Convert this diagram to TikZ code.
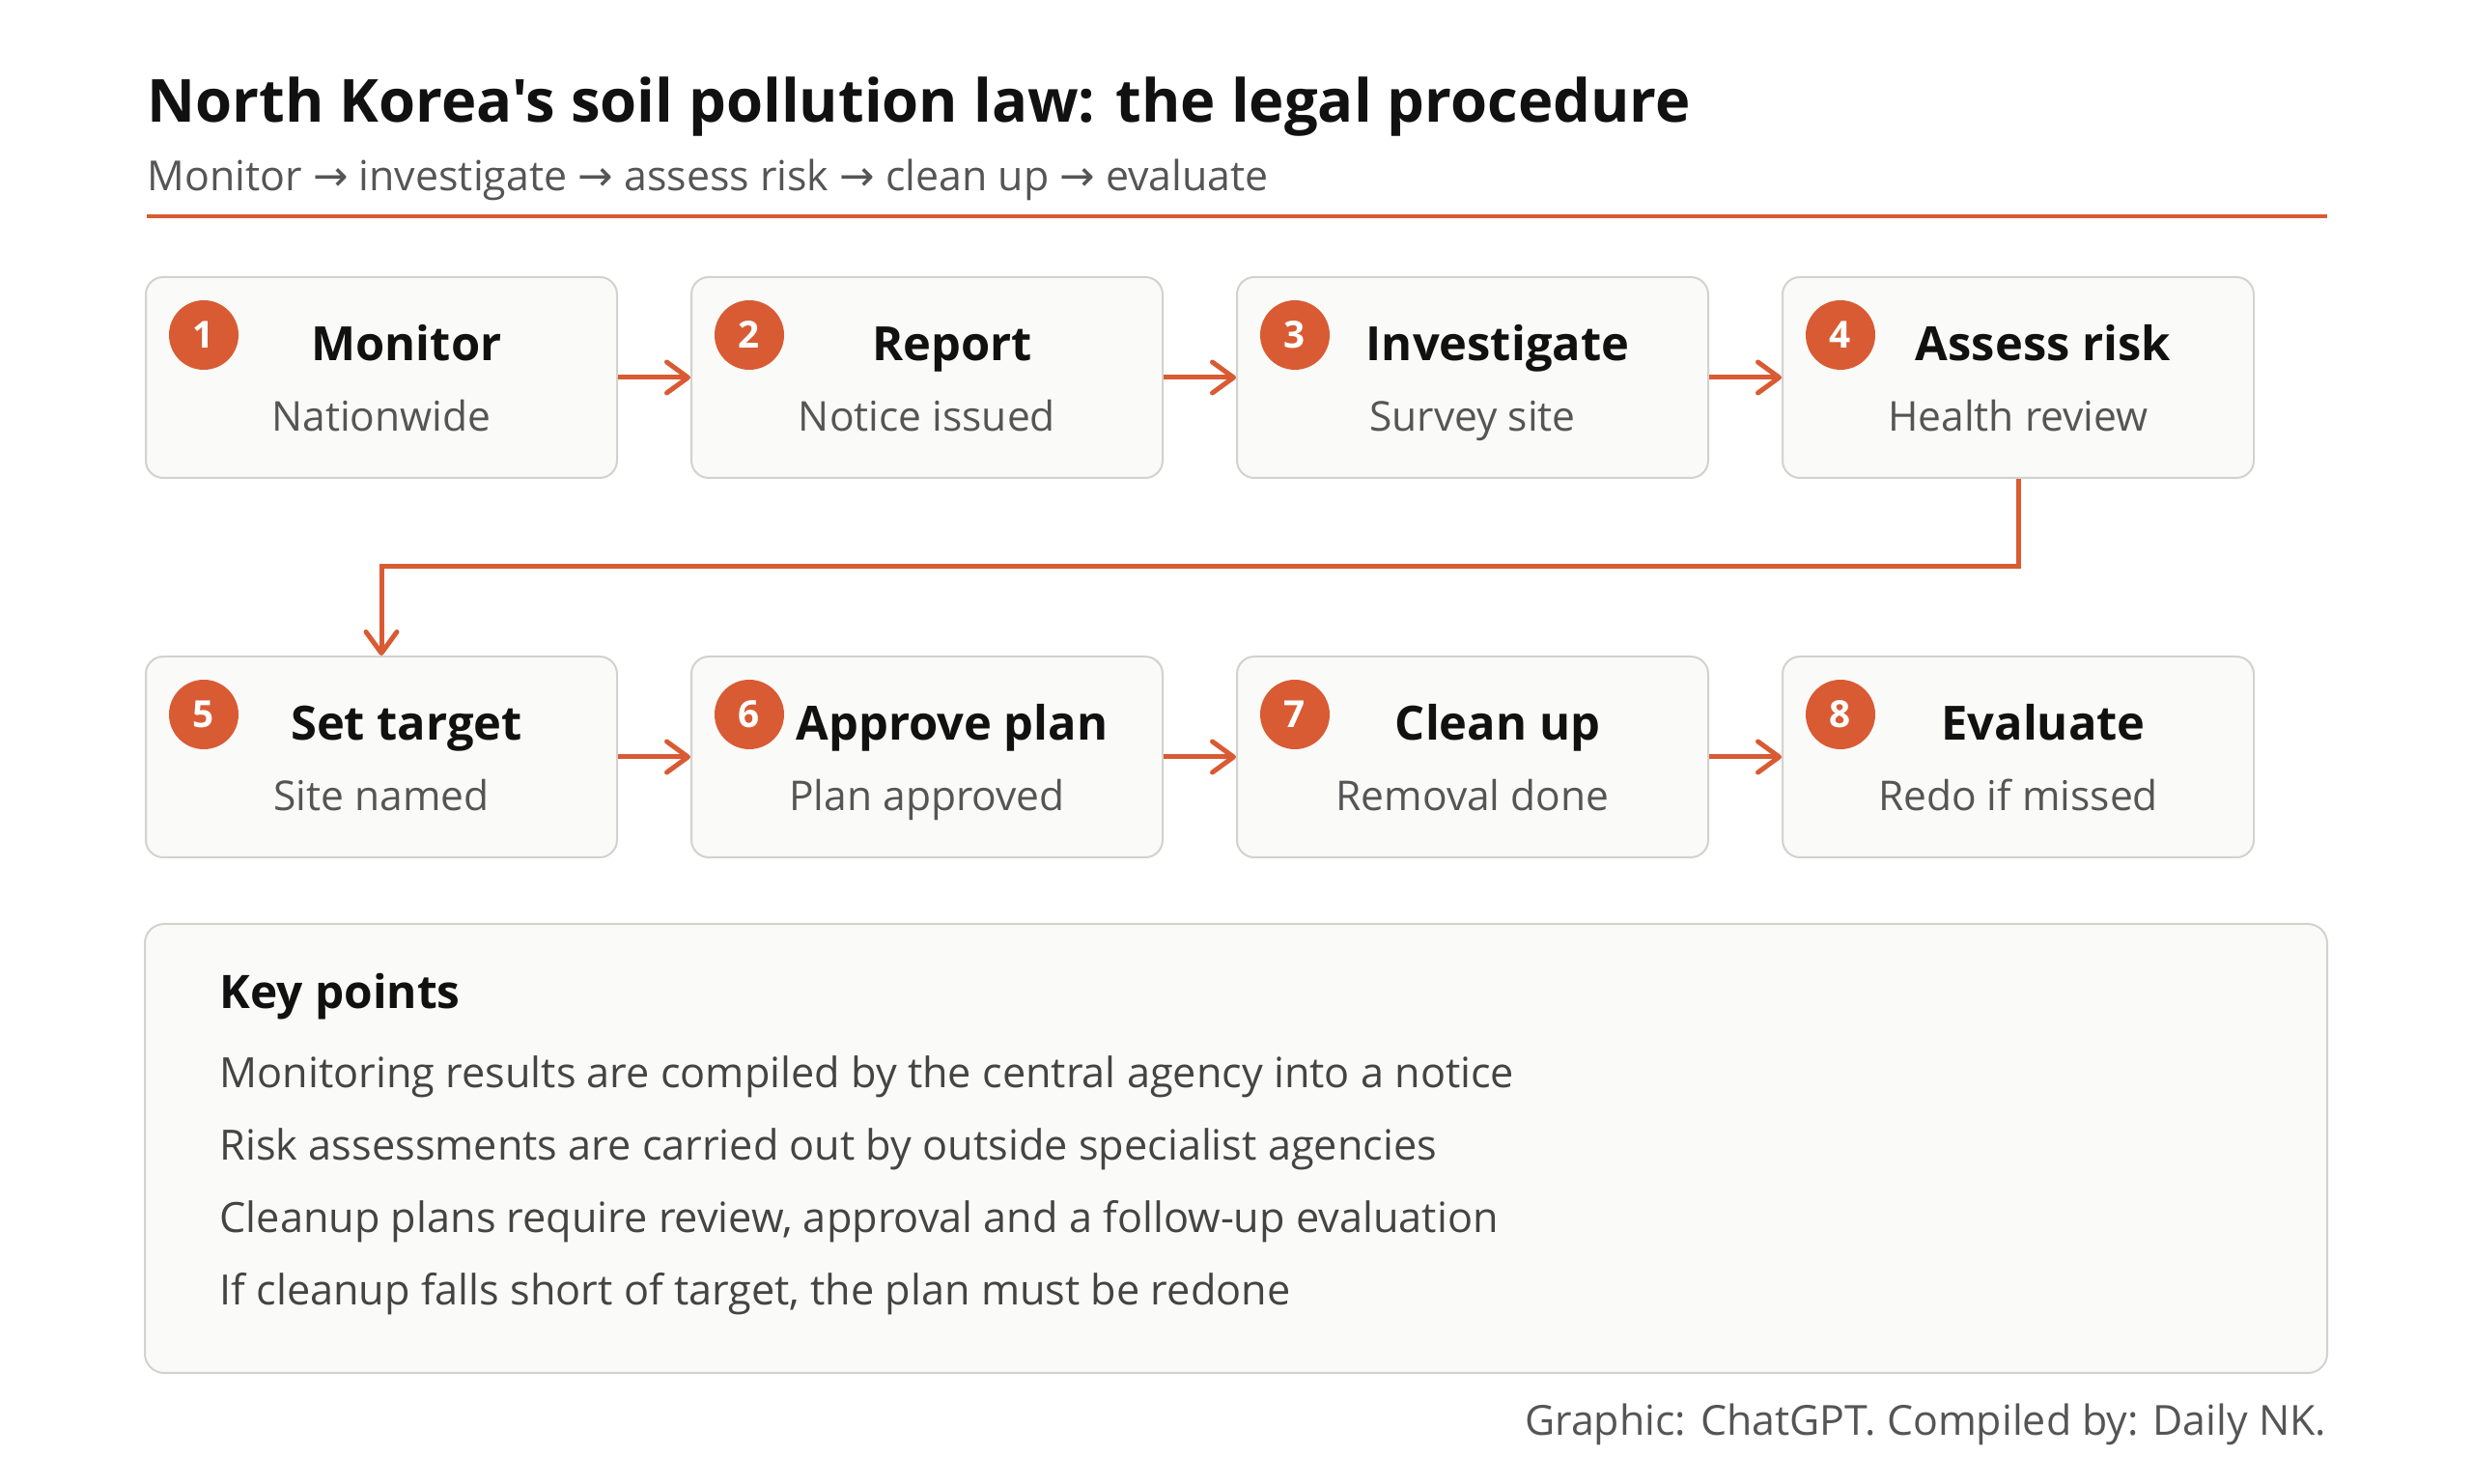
\documentclass[tikz,border=0pt]{standalone}
\usepackage{fontspec}
\setmainfont{Open Sans}
\newfontfamily\uifont{Open Sans}
\newfontfamily\symfont{DejaVu Sans}
\usepackage{tikz}
\usetikzlibrary{arrows.meta,positioning,calc}
\definecolor{nkorange}{HTML}{D95B33}
\definecolor{cardfill}{HTML}{FAFAF8}
\definecolor{cardline}{HTML}{D2D2D0}
\definecolor{inkdark}{HTML}{111111}
\definecolor{inkgrey}{HTML}{555555}
\definecolor{inkmid}{HTML}{444444}
\tikzset{
 stepbox/.style={draw=cardline,line width=0.02cm,fill=cardfill,rounded corners=0.18cm,
   minimum width=4.88cm,minimum height=2.08cm,inner sep=0pt},
 badge/.style={circle,fill=nkorange,text=white,minimum size=0.72cm,inner sep=0pt,
   font=\uifont\fontsize{11}{13}\selectfont\bfseries},
 steptitle/.style={anchor=base,inner sep=0pt,text=inkdark,font=\uifont\fontsize{13.9}{17}\selectfont\bfseries},
 stepsub/.style={anchor=base,inner sep=0pt,text=inkgrey,font=\uifont\fontsize{12.1}{15}\selectfont},
 flow/.style={-{Straight Barb[length=0.22cm,width=0.32cm,round]},line width=0.05cm,draw=nkorange},
 keybox/.style={draw=cardline,line width=0.02cm,fill=cardfill,rounded corners=0.2cm,
   minimum width=22.6cm,minimum height=4.65cm,inner sep=0pt},
 keyline/.style={anchor=base west,inner sep=0pt,text=inkmid,font=\uifont\fontsize{12.3}{15}\selectfont}
}
% one card: name, placement, number, title, subtitle
\newcommand{\stepcard}[5]{%
 \node[stepbox,#2] (#1) {};
 \node[badge] (#1n) at ([xshift=0.61cm,yshift=-0.61cm]#1.north west) {#3};
 \node[steptitle] (#1t) at ([xshift=0.26cm,yshift=0.17cm]#1.center) {#4};
 \node[stepsub] (#1s) at ([yshift=-0.56cm]#1.center) {#5};
}
\newcommand{\ra}{{\symfont\fontsize{12.4}{15}\selectfont →}}
\begin{document}
\begin{tikzpicture}[node distance=1.83cm and 0.75cm]
 \fill[white] (0,0) rectangle (25.6,-15.37);
 \useasboundingbox (0,0) rectangle (25.6,-15.37);
 % heading
 \node[anchor=base west,inner sep=0pt,text=inkdark,font=\uifont\fontsize{17.5}{21}\selectfont\bfseries]
   (head) at (1.52,-1.27) {North Korea's soil pollution law: the legal procedure};
 \node[anchor=base west,inner sep=0pt,text=inkgrey,font=\uifont\fontsize{12.2}{15}\selectfont]
   (sub) at (1.52,-1.98) {Monitor \ra{} investigate \ra{} assess risk \ra{} clean up \ra{} evaluate};
 \draw[nkorange,line width=0.045cm] (1.52,-2.24) -- (24.1,-2.24);
 % steps
 \stepcard{mon}{at={(3.95,-3.91)}}{1}{Monitor}{Nationwide}
 \stepcard{rep}{right=of mon}{2}{Report}{Notice issued}
 \stepcard{inv}{right=of rep}{3}{Investigate}{Survey site}
 \stepcard{ass}{right=of inv}{4}{Assess risk}{Health review}
 \stepcard{tgt}{below=of mon}{5}{Set target}{Site named}
 \stepcard{apr}{right=of tgt}{6}{Approve plan}{Plan approved}
 \stepcard{cln}{right=of apr}{7}{Clean up}{Removal done}
 \stepcard{evl}{right=of cln}{8}{Evaluate}{Redo if missed}
 \draw[flow] (mon)--(rep);
 \draw[flow] (rep)--(inv);
 \draw[flow] (inv)--(ass);
 \draw[flow] (ass.south) -- ++(0,-0.91) -| (tgt.north);
 \draw[flow] (tgt)--(apr);
 \draw[flow] (apr)--(cln);
 \draw[flow] (cln)--(evl);
 % key points
 \node[keybox] (keys) at (12.8,-11.895) {};
 \node[anchor=base west,inner sep=0pt,text=inkdark,font=\uifont\fontsize{13.6}{16}\selectfont\bfseries]
   (keyhead) at (2.27,-10.45) {Key points};
 \node[keyline] (kp1) at (2.27,-11.27) {Monitoring results are compiled by the central agency into a notice};
 \node[keyline] (kp2) at ([yshift=-0.75cm]kp1.base west) {Risk assessments are carried out by outside specialist agencies};
 \node[keyline] (kp3) at ([yshift=-0.75cm]kp2.base west) {Cleanup plans require review, approval and a follow-up evaluation};
 \node[keyline] (kp4) at ([yshift=-0.75cm]kp3.base west) {If cleanup falls short of target, the plan must be redone};
 \node[anchor=base east,inner sep=0pt,text=inkgrey,font=\uifont\fontsize{12.2}{15}\selectfont]
   (credit) at (24.1,-14.87) {Graphic: ChatGPT. Compiled by: Daily NK.};
\end{tikzpicture}
\end{document}
